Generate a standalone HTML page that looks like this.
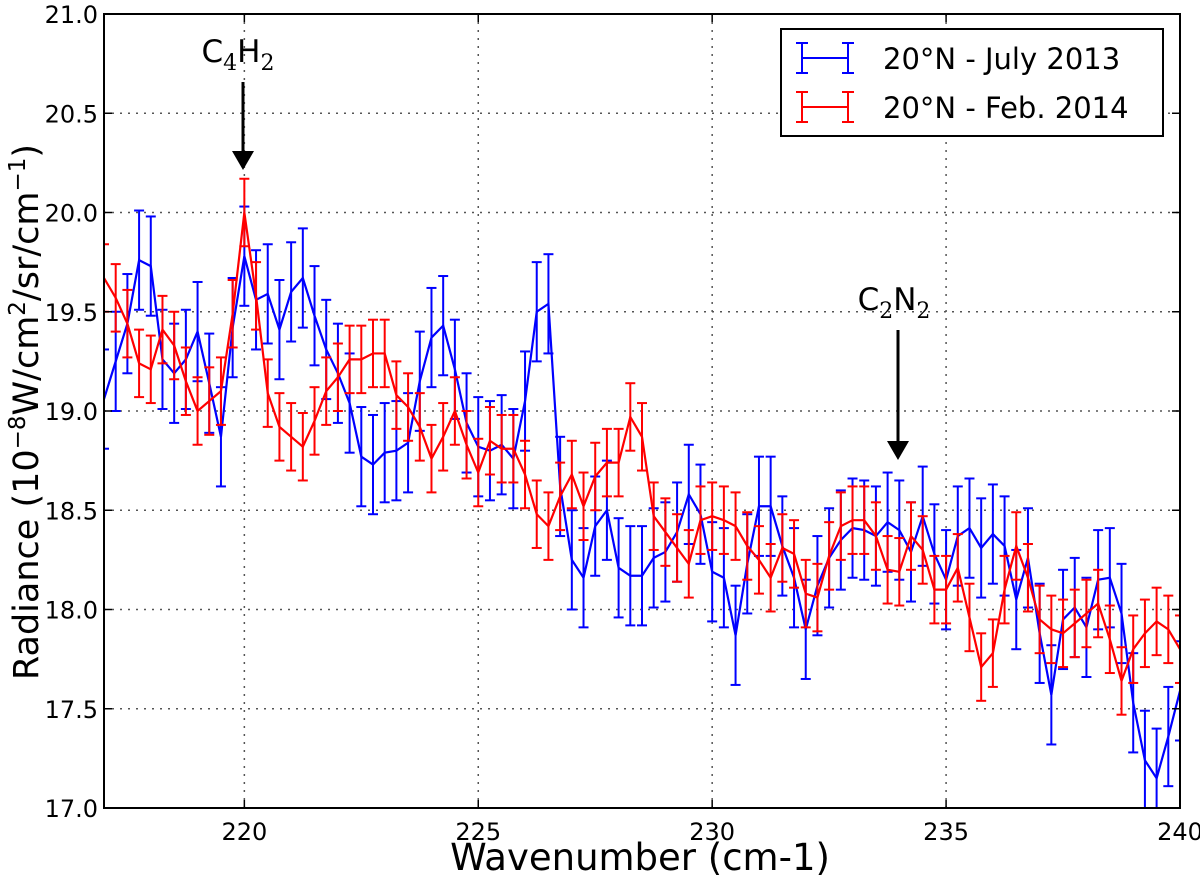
<!DOCTYPE html>
<html><head><meta charset="utf-8"><style>
html,body{margin:0;padding:0;background:#fff;}
svg{display:block;font-family:"DejaVu Sans","Liberation Sans",sans-serif;}
</style></head><body>
<svg id="chart" width="1200" height="880" viewBox="0 0 1200 880"></svg>
<script>
const wavenumbers = [];
for (let i = 0; i <= 92; i++) wavenumbers.push(217 + 0.25 * i);
const blueValues = [19.06,19.25,19.44,19.76,19.73,19.26,19.19,19.26,19.40,19.14,18.87,19.42,19.78,19.56,19.59,19.41,19.60,19.67,19.48,19.31,19.19,19.04,18.77,18.73,18.79,18.80,18.84,19.15,19.37,19.43,19.21,18.94,18.82,18.80,18.83,18.76,19.05,19.50,19.54,18.62,18.25,18.16,18.42,18.50,18.21,18.17,18.17,18.26,18.29,18.39,18.58,18.48,18.19,18.16,17.87,18.23,18.52,18.52,18.32,18.16,17.90,18.12,18.26,18.35,18.41,18.40,18.37,18.44,18.40,18.29,18.47,18.28,18.15,18.37,18.41,18.31,18.38,18.32,18.05,18.26,17.88,17.57,17.95,18.01,17.91,18.15,18.16,17.98,17.53,17.24,17.15,17.36,17.59];
const redValues = [19.67,19.57,19.44,19.24,19.21,19.41,19.33,19.15,19.00,19.05,19.10,19.49,20.00,19.58,19.09,18.92,18.87,18.82,18.95,19.10,19.17,19.26,19.26,19.29,19.29,19.08,19.02,18.92,18.76,18.87,19.00,18.83,18.69,18.85,18.81,18.81,18.68,18.48,18.42,18.57,18.68,18.52,18.67,18.74,18.74,18.97,18.87,18.47,18.39,18.31,18.23,18.45,18.47,18.45,18.42,18.32,18.25,18.16,18.31,18.28,18.08,18.06,18.27,18.42,18.45,18.45,18.37,18.20,18.19,18.37,18.30,18.10,18.10,18.21,17.96,17.71,17.78,18.10,18.32,18.16,17.95,17.90,17.88,17.93,17.98,18.03,17.85,17.64,17.80,17.88,17.94,17.90,17.80];
const blueError = 0.25;
const redError = 0.17;
const xTicks = [220,225,230,235,240];
const yTicks = [17.0,17.5,18.0,18.5,19.0,19.5,20.0,20.5,21.0];

const L=104,R=1180,T=14,B=808, X0=217,X1=240,Y0=17,Y1=21;
const sx = v => L + (v - X0) / (X1 - X0) * (R - L);
const sy = v => B - (v - Y0) / (Y1 - Y0) * (B - T);
const NS='http://www.w3.org/2000/svg';
const svg=document.getElementById('chart');
function mk(tag, attrs, parent){const e=document.createElementNS(NS,tag);for(const k in attrs)e.setAttribute(k,attrs[k]);(parent||svg).appendChild(e);return e;}

const grid=mk('g',{});


xTicks.forEach(t=>{if(t>X0&&t<X1)mk('line',{x1:sx(t),x2:sx(t),y1:T,y2:B,stroke:'#555','stroke-dasharray':'2,6','stroke-width':1.5},grid);});
yTicks.forEach(t=>{if(t>Y0&&t<Y1)mk('line',{x1:L,x2:R,y1:sy(t),y2:sy(t),stroke:'#555','stroke-dasharray':'2,6','stroke-width':1.5},grid);});

const clip=mk('clipPath',{id:'pc'});mk('rect',{x:L,y:T,width:R-L,height:B-T},clip);
const plot=mk('g',{'clip-path':'url(#pc)'});
function series(vals, err, color, name){
  const g=mk('g',{},plot);
  
  
  vals.forEach((v,i)=>{
    const x=sx(wavenumbers[i]), a=sy(v+err), b=sy(v-err);
    mk('line',{x1:x,x2:x,y1:a,y2:b,stroke:color,'stroke-width':2},g);
    mk('line',{x1:x-5,x2:x+5,y1:a,y2:a,stroke:color,'stroke-width':2},g);
    mk('line',{x1:x-5,x2:x+5,y1:b,y2:b,stroke:color,'stroke-width':2},g);
  });
  const pts=vals.map((v,i)=>sx(wavenumbers[i])+','+sy(v)).join(' ');
  mk('polyline',{points:pts,fill:'none',stroke:color,'stroke-width':2.2},g);
}
series(blueValues,blueError,'#0000ff','series-july-2013');
series(redValues,redError,'#ff0000','series-feb-2014');

const frame=mk('rect',{x:L,y:T,width:R-L,height:B-T,fill:'none',stroke:'#000','stroke-width':2});



xTicks.forEach(t=>{
  const x=sx(t);
  mk('line',{x1:x,x2:x,y1:B,y2:B-8,stroke:'#000','stroke-width':1.5});
  mk('line',{x1:x,x2:x,y1:T,y2:T+8,stroke:'#000','stroke-width':1.5});
  const tx=mk('text',{x:x,y:B+32,'text-anchor':'middle','font-size':24,fill:'#000'});
  tx.textContent=String(t);
  
  
});
yTicks.forEach(t=>{
  const y=sy(t);
  mk('line',{x1:L,x2:L+8,y1:y,y2:y,stroke:'#000','stroke-width':1.5});
  mk('line',{x1:R,x2:R-8,y1:y,y2:y,stroke:'#000','stroke-width':1.5});
  const tx=mk('text',{x:L-6,y:y+9,'text-anchor':'end','font-size':24,fill:'#000'});
  tx.textContent=t.toFixed(1);
  
  
});

svg.insertAdjacentHTML('beforeend',`
<text x="640" y="870" text-anchor="middle" font-size="37">Wavenumber (cm-1)</text>
<text transform="translate(38,412) rotate(-90)" text-anchor="middle" font-size="35">Radiance (10<tspan dy="-13" font-size="23">−8</tspan><tspan dy="13">W/cm</tspan><tspan dy="-13" font-size="23">2</tspan><tspan dy="13">/sr/cm</tspan><tspan dy="-13" font-size="23">−1</tspan><tspan dy="13">)</tspan></text>
<g>
<text x="238" y="62" text-anchor="middle" font-size="31">C<tspan dy="8" font-size="22" font-family="DejaVu Serif, serif">4</tspan><tspan dy="-8">H</tspan><tspan dy="8" font-size="22" font-family="DejaVu Serif, serif">2</tspan></text>
<line x1="243" y1="82" x2="243" y2="152" stroke="#000" stroke-width="3"/>
<polygon points="232,151 254,151 243,170" fill="#000"/>
</g>
<g>
<text x="894" y="310" text-anchor="middle" font-size="31">C<tspan dy="8" font-size="22" font-family="DejaVu Serif, serif">2</tspan><tspan dy="-8">N</tspan><tspan dy="8" font-size="22" font-family="DejaVu Serif, serif">2</tspan></text>
<line x1="898" y1="330" x2="898" y2="442" stroke="#000" stroke-width="3"/>
<polygon points="887,441 909,441 898,460" fill="#000"/>
</g>
<g>
<rect x="781" y="29" width="382" height="107" fill="#fff" stroke="#000" stroke-width="2"/>
<g>
<line x1="802" y1="58" x2="848" y2="58" stroke="#0000ff" stroke-width="2"/>
<line x1="802" y1="43" x2="802" y2="73" stroke="#0000ff" stroke-width="2"/>
<line x1="848" y1="43" x2="848" y2="73" stroke="#0000ff" stroke-width="2"/>
<line x1="796" y1="43" x2="808" y2="43" stroke="#0000ff" stroke-width="2"/><line x1="796" y1="73" x2="808" y2="73" stroke="#0000ff" stroke-width="2"/>
<line x1="842" y1="43" x2="854" y2="43" stroke="#0000ff" stroke-width="2"/><line x1="842" y1="73" x2="854" y2="73" stroke="#0000ff" stroke-width="2"/>
<text x="883" y="69" font-size="29">20°N - July 2013</text>
</g>
<g>
<line x1="802" y1="107" x2="848" y2="107" stroke="#ff0000" stroke-width="2"/>
<line x1="802" y1="92" x2="802" y2="122" stroke="#ff0000" stroke-width="2"/>
<line x1="848" y1="92" x2="848" y2="122" stroke="#ff0000" stroke-width="2"/>
<line x1="796" y1="92" x2="808" y2="92" stroke="#ff0000" stroke-width="2"/><line x1="796" y1="122" x2="808" y2="122" stroke="#ff0000" stroke-width="2"/>
<line x1="842" y1="92" x2="854" y2="92" stroke="#ff0000" stroke-width="2"/><line x1="842" y1="122" x2="854" y2="122" stroke="#ff0000" stroke-width="2"/>
<text x="883" y="118" font-size="29">20°N - Feb. 2014</text>
</g>
</g>`);
</script>
</body></html>
